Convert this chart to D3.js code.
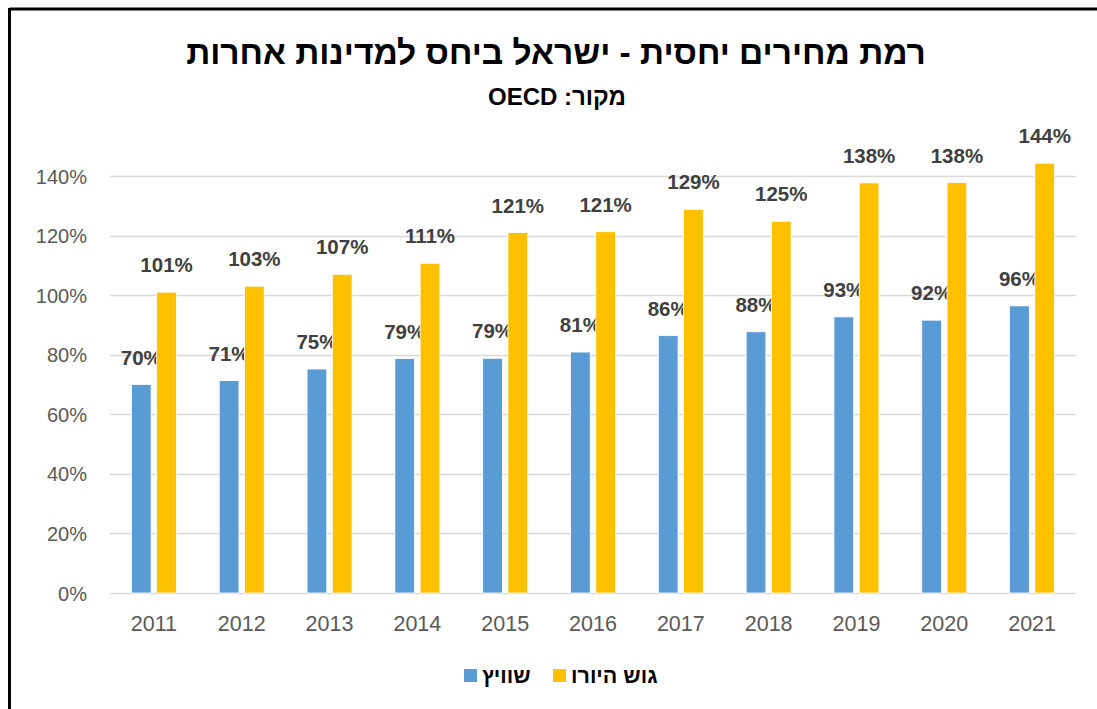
<!DOCTYPE html>
<html>
<head>
<meta charset="utf-8">
<script src="https://cdn.jsdelivr.net/npm/d3@7"></script>
<style>
  body { margin: 0; background: #fff; }
  svg text { font-family: "Liberation Sans", Arial, sans-serif; }
</style>
</head>
<body>
<div id="chart"></div>
<script>
// data
let years = ['2011', '2012', '2013', '2014', '2015', '2016', '2017', '2018', '2019', '2020', '2021'];
let swiss = [0.70, 0.713, 0.752, 0.787, 0.788, 0.809, 0.864, 0.877, 0.927, 0.916, 0.964];
let euro = [1.01, 1.03, 1.07, 1.107, 1.21, 1.213, 1.288, 1.248, 1.377, 1.378, 1.443];
let yTicks = [0, 0.2, 0.4, 0.6, 0.8, 1.0, 1.2, 1.4];
let seriesNames = ['שוויץ', 'גוש היורו'];
let seriesColors = ['#5B9BD5', '#FFC000'];

let W = 1097, H = 709;
let svg = d3.select("#chart").append("svg")
    .attr("width", W)
    .attr("height", H);

svg.append("rect").attr("width", W).attr("height", H).attr("fill", "#fff");

// frame (only top and left edges visible)
svg.append("line").attr("x1", 9.5).attr("x2", W).attr("y1", 9).attr("y2", 9)
    .attr("stroke", "#000").attr("stroke-width", 3);
svg.append("line").attr("x1", 9.5).attr("x2", 9.5).attr("y1", 8).attr("y2", H)
    .attr("stroke", "#000").attr("stroke-width", 3);

// titles
svg.append("text")
    .attr("x", 556).attr("y", 64)
    .attr("text-anchor", "middle")
    .attr("font-size", 33.5).attr("font-weight", "bold")
    .attr("fill", "#000")
    .text("רמת מחירים יחסית - ישראל ביחס למדינות אחרות");
svg.append("text")
    .attr("x", 557).attr("y", 105)
    .attr("text-anchor", "middle")
    .attr("font-size", 24).attr("font-weight", "bold")
    .attr("fill", "#000")
    .attr("direction", "rtl")
    .text("מקור: OECD");

// scales
let x = d3.scaleBand().domain(years).range([110, 1076]);
let y = d3.scaleLinear().domain([0, 1.4]).range([593, 176]);
let inner = d3.scaleBand().domain([0, 1]).range([x.bandwidth() / 2 - 22.5, x.bandwidth() / 2 + 22.5]).paddingInner(0.22);

// gridlines
svg.append("g")
    .selectAll("line")
    .data(yTicks)
    .join("line")
    .attr("x1", 110).attr("x2", 1076)
    .attr("y1", d => Math.round(y(d)) + 0.5).attr("y2", d => Math.round(y(d)) + 0.5)
    .attr("stroke", "#D9D9D9").attr("stroke-width", 1.3);

// y axis labels
let yAxis = svg.append("g")
    .attr("transform", "translate(87,0)")
    .call(d3.axisLeft(y).tickValues(yTicks).tickFormat(d3.format(".0%")).tickSize(0).tickPadding(0));
yAxis.select(".domain").remove();
yAxis.selectAll("text")
    .attr("font-size", 20)
    .attr("fill", "#595959")
    .attr("font-family", "'Liberation Sans', Arial, sans-serif")
    .attr("dy", "0.35em");

// x axis labels
let xAxis = svg.append("g")
    .attr("transform", "translate(0,593)")
    .call(d3.axisBottom(x).tickSize(0).tickPadding(23));
xAxis.select(".domain").remove();
xAxis.selectAll("text")
    .attr("font-size", 21.5)
    .attr("fill", "#595959")
    .attr("font-family", "'Liberation Sans', Arial, sans-serif");

// bars
let series = [swiss, euro];
series.forEach(function (vals, s) {
    let g = svg.append("g");
    g.selectAll("rect")
        .data(vals)
        .join("rect")
        .attr("x", (d, i) => x(years[i]) + inner(s))
        .attr("y", d => y(d))
        .attr("width", inner.bandwidth())
        .attr("height", d => y(0) - y(d))
        .attr("fill", seriesColors[s])
        .attr("stroke", "#fff")
        .attr("stroke-width", 0.8);
    g.selectAll("text")
        .data(vals)
        .join("text")
        .attr("x", (d, i) => x(years[i]) + inner(s) + inner.bandwidth() / 2)
        .attr("y", d => y(d) - 20)
        .attr("text-anchor", "middle")
        .attr("font-size", 20.5)
        .attr("font-weight", "bold")
        .attr("fill", "#404040")
        .text(d => Math.round(d * 100) + "%");
});

// legend
let legendItems = [
    { name: seriesNames[0], color: seriesColors[0], x: 464 },
    { name: seriesNames[1], color: seriesColors[1], x: 553 }
];
let lg = svg.append("g");
legendItems.forEach(function (d) {
    lg.append("rect")
        .attr("x", d.x).attr("y", 669)
        .attr("width", 13).attr("height", 13)
        .attr("fill", d.color);
    lg.append("text")
        .attr("x", d.x + 18).attr("y", 683)
        .attr("font-size", 21.5).attr("font-weight", "bold")
        .attr("fill", "#000")
        .attr("text-anchor", "end")
        .attr("direction", "rtl")
        .text(d.name);
});
</script>
</body>
</html>
